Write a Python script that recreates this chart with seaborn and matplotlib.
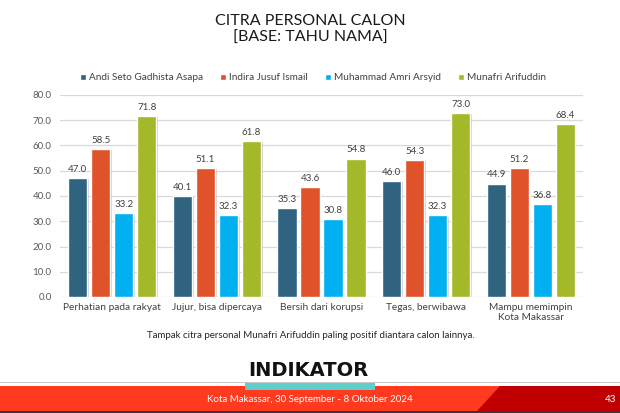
import matplotlib
matplotlib.use("Agg")
import matplotlib.pyplot as plt
import matplotlib.patheffects as pe
import seaborn as sns
import pandas as pd
from matplotlib.patches import Rectangle, Polygon

categories = ["Perhatian pada rakyat", "Jujur, bisa dipercaya", "Bersih dari korupsi",
              "Tegas, berwibawa", "Mampu memimpin\nKota Makassar"]
candidates = ["Andi Seto Gadhista Asapa", "Indira Jusuf Ismail",
              "Muhammad Amri Arsyid", "Munafri Arifuddin"]
andi = [47.0, 40.1, 35.3, 46.0, 44.9]
indira = [58.5, 51.1, 43.6, 54.3, 51.2]
amri = [33.2, 32.3, 30.8, 32.3, 36.8]
munafri = [71.8, 61.8, 54.8, 73.0, 68.4]
colors = ["#2F6380", "#E0522A", "#00B0F0", "#A5B829"]
yticks = [0, 10, 20, 30, 40, 50, 60, 70, 80]

rows = []
for cand, vals in zip(candidates, [andi, indira, amri, munafri]):
    for c, v in zip(categories, vals):
        rows.append({"cat": c, "cand": cand, "val": v})
df = pd.DataFrame(rows)

sns.set_theme(style="white")
plt.rcParams["font.family"] = ["Lato", "DejaVu Sans"]

W, H = 620, 413
fig = plt.figure(figsize=(6.2, 4.13), dpi=100)
ax = fig.add_axes([60 / W, 1 - 297 / H, (583 - 60) / W, (297 - 95) / H])

sns.barplot(data=df, x="cat", y="val", hue="cand", order=categories,
            hue_order=candidates, palette=colors, width=0.88, gap=0.17,
            saturation=1, ax=ax, legend=True, errorbar=None)

for p in ax.patches:
    p.set_path_effects([pe.SimplePatchShadow(offset=(1.2, -0.8), shadow_rgbFace="#9a9a9a",
                                             alpha=0.45), pe.Normal()])

ax.set_ylim(0, 80)
ax.set_xlim(-0.5, len(categories) - 0.5)
ax.set_yticks(yticks)
ax.set_yticklabels([f"{t:.1f}" for t in yticks], fontsize=7, color="#595959")
ax.tick_params(axis="x", labelsize=7.3, labelcolor="#404040", length=0, pad=4)
ax.tick_params(axis="y", length=0, pad=6)
ax.yaxis.grid(True, color="#D9D9D9", linewidth=0.9)
ax.set_axisbelow(True)
for s in ax.spines.values():
    s.set_visible(False)
ax.set_xlabel("")
ax.set_ylabel("")

for cont in ax.containers:
    ax.bar_label(cont, fmt="%.1f", fontsize=7, color="#404040", padding=3)

handles, labels = ax.get_legend_handles_labels()
leg = ax.legend(handles, labels, loc="center left", bbox_to_anchor=(71 / W, 1 - 78 / H),
                bbox_transform=fig.transFigure, ncol=4, frameon=False, fontsize=7.2,
                handlelength=0.6, handleheight=0.6, handletextpad=0.3, columnspacing=1.7,
                labelcolor="#404040")
for h in leg.legend_handles:
    h.set_path_effects([])

fig.text(0.5, 1 - 21 / H, "CITRA PERSONAL CALON", ha="center", va="center",
         fontsize=11.5, color="#1a1a1a")
fig.text(0.5, 1 - 38 / H, "[BASE: TAHU NAMA]", ha="center", va="center",
         fontsize=11.5, color="#1a1a1a")

fig.text(311 / W, 1 - 336 / H,
         "Tampak citra personal Munafri Arifuddin paling positif diantara calon lainnya.",
         ha="center", va="center", fontsize=7, color="#262626")

# footer
fig.add_artist(Rectangle((0, 1 - 383 / H), 1, 1.2 / H, transform=fig.transFigure,
                         color="#C8C8C8", lw=0))
fig.add_artist(Rectangle((0, 1 - 411 / H), 1, 25 / H, transform=fig.transFigure,
                         color="#FF3A1E", lw=0))
fig.add_artist(Polygon([(500 / W, 1 - 386 / H), (1, 1 - 386 / H), (1, 1 - 411 / H),
                        (477 / W, 1 - 411 / H)], closed=True, transform=fig.transFigure,
                       color="#C00000", lw=0))
fig.add_artist(Rectangle((0, 0), 1, 2 / H, transform=fig.transFigure,
                         color="#2E3B47", lw=0))
fig.add_artist(Rectangle((245 / W, 1 - 390 / H), 130 / W, 7 / H, transform=fig.transFigure,
                         color="#5ECFCB", lw=0))
fig.text(308 / W, 1 - 370 / H, "INDIKATOR", ha="center", va="center", fontsize=14,
         fontweight="bold", color="#111111", family=["DejaVu Sans"])
fig.text(310 / W, 1 - 399 / H, "Kota Makassar, 30 September - 8 Oktober 2024",
         ha="center", va="center", fontsize=7, color="white")
fig.text(611 / W, 1 - 399 / H, "43", ha="center", va="center", fontsize=7, color="white")

fig.savefig("out.png", dpi=100)
